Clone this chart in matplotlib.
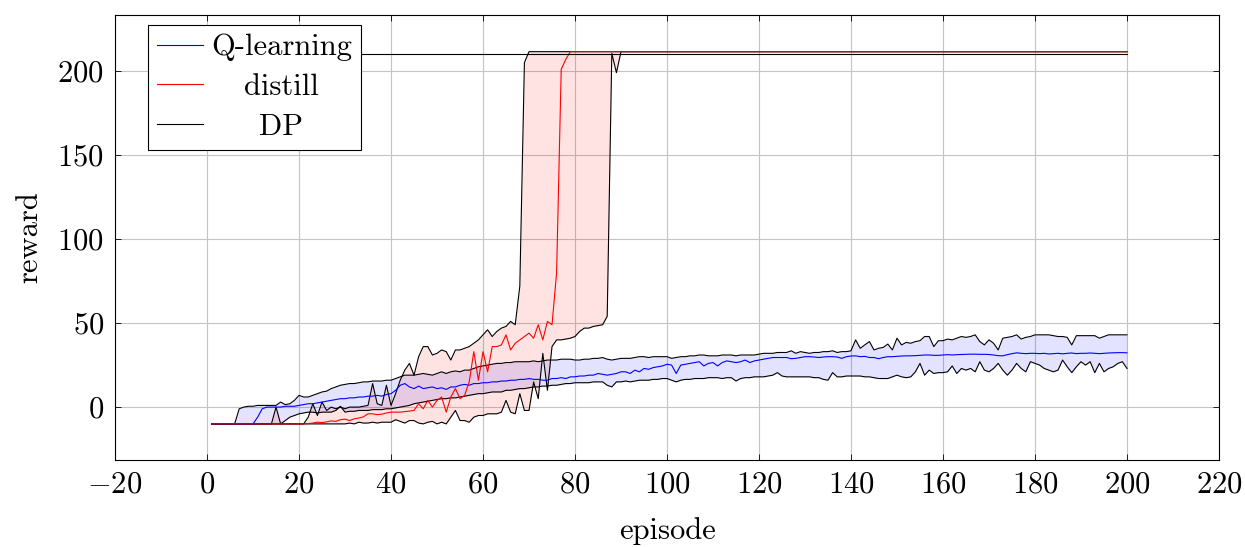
import numpy as np
import matplotlib.pyplot as plt
from matplotlib.transforms import Affine2D

# Computer-Modern-Look wie in pgfplots
plt.rcParams['font.family'] = 'serif'
plt.rcParams['font.serif'] = ['cmr10']
plt.rcParams['mathtext.fontset'] = 'cm'
plt.rcParams['axes.formatter.use_mathtext'] = True
plt.rcParams['font.size'] = 22

episode = np.arange(1, 201)

# Q-learning: Mittelwert, obere und untere Grenze
q_mean = [-10, -10, -10, -10, -10, -10, -10, -10, -10, -10,
          -6, -1, 0, 0, 0, 0, 0.5, 0.5, 0.5, 1,
          1.5, 2, 2, 2.5, 3, 3.5, 4, 4.5, 5, 5,
          5.5, 5.5, 6, 6, 6.5, 6.5, 7, 6.5, 7.5, 8,
          10, 13, 14, 12, 11, 12.5, 11, 11.5, 12, 11,
          11.5, 10.5, 12, 12, 13, 13.5, 13, 14, 14, 14.5,
          14.5, 15, 15, 15.5, 15.5, 16, 16, 16.5, 16.5, 17,
          16.5, 16.5, 16, 16, 17, 17, 17.5, 17, 18, 18,
          18.5, 18.5, 19, 19, 20, 19.5, 19, 19.5, 20, 21,
          21, 20, 22, 21, 23, 22.5, 23.5, 24, 24.5, 25.5,
          25, 20, 25, 25.5, 26, 26.5, 27, 24.5, 26, 26.5,
          24.5, 26.5, 27.5, 27, 26.5, 27, 28, 26.5, 27.5, 28,
          28.5, 29, 29.5, 29.5, 29.5, 29.5, 28.8, 29, 29.5, 30,
          30, 29.8, 29.5, 29.8, 30, 30, 29.8, 29, 30, 30.4,
          30.5, 30, 30.2, 29.5, 29.5, 28.8, 29.5, 30, 30, 30.2,
          30.4, 30.5, 30.5, 30.6, 30.8, 31, 31, 30.8, 30.8, 31,
          31.2, 31, 31.2, 31.3, 31.4, 31.5, 31.5, 31.4, 31.4, 31.3,
          31, 30.6, 30.5, 31.2, 31.8, 32.3, 32, 31.8, 32, 32,
          31.8, 32, 31.6, 31.8, 32, 31.7, 32, 32.2, 31.8, 32,
          32, 32.2, 32, 31.8, 32, 32.2, 32.3, 32.4, 32.4, 32.3]

q_upper = [-10, -10, -10, -10, -10, -10, -1, 0, 0.5, 0.5,
           1, 1, 1, 1, 1, 3, 1.5, 2, 4, 7,
           6, 6, 7, 8, 9, 9.5, 11, 12, 13, 13.5,
           14, 14, 14.5, 15, 15, 15.5, 15.5, 15.5, 16, 16,
           17, 18, 19, 19, 19, 19.5, 20, 19.5, 19, 20,
           21, 20, 21, 21.5, 21, 22, 22, 23, 24, 24.5,
           25, 25.5, 26, 26, 26.5, 26.5, 27, 27, 27, 27,
           27.5, 27, 27.5, 28, 28, 28, 28.5, 28.5, 28.5, 28,
           28, 28.5, 28.5, 29, 29, 29.5, 28.5, 28, 28.5, 29,
           29, 29, 29.5, 30, 30, 29.5, 30, 30, 30, 30,
           29, 29.5, 30, 30, 30.5, 30.5, 31, 31, 30.5, 30.5,
           30.5, 31, 31, 31, 30.5, 31, 31, 31, 31, 31.5,
           32, 32, 32, 32.5, 32.5, 32.5, 33.5, 32, 33, 32.5,
           32, 32.5, 32.5, 33, 33, 33.5, 32.5, 33, 33, 33.5,
           40, 35, 37, 39, 34, 35, 35.5, 37.5, 34, 41,
           37, 38.5, 38, 39, 39.5, 42, 42, 36, 39.5, 39.5,
           40.5, 40, 41, 42, 41.5, 42, 43, 39, 37, 40,
           38, 34, 41, 41.5, 42, 43, 40.5, 41.5, 42, 43,
           43, 43, 43, 42.5, 42, 42, 41.5, 37, 42.5, 42.5,
           42.5, 42.5, 42.5, 41, 42, 43, 43, 43, 43, 43]

q_lower = [-10, -10, -10, -10, -10, -10, -10, -10, -10, -10,
           -10, -10, -10, -10, -10, -10, -8, -6, -5, -4,
           -3.5, -3, -3, -3.5, -3, -3, -3, -2, 0.5, -3,
           -2.5, -2.5, -2, -2, -2, -1.5, -1.5, -1.5, -1, -1,
           -0.5, 0, 0.5, 1, 2, 2.5, 3, 3.5, 4, 4.5,
           5, 5, 5.5, 5.5, 6, 6.5, 7, 7.5, 8, 8,
           8.5, 9, 9, 9, 10, 10, 10.5, 11, 11, 11.5,
           12, 12, 12.5, 12.5, 13, 13, 13.5, 14, 14, 14.5,
           14.5, 14.5, 14.5, 15, 15, 15, 13, 12, 15, 15,
           15.5, 15, 15.5, 16, 16, 16, 16.5, 16.5, 17, 17,
           16, 15, 16, 16.5, 16.5, 17, 17, 17, 17.5, 17.5,
           17.5, 17, 17.5, 17.5, 15.5, 17, 17.5, 17.5, 18, 18,
           18, 18.5, 19, 20.5, 18.5, 18, 18, 18, 18, 18,
           18, 17.5, 17.5, 16.5, 16, 20.5, 18, 18, 18.5, 18.5,
           18.5, 18.5, 18, 18, 17.5, 17, 17, 17, 18, 19,
           18, 17.5, 18, 21, 26, 19, 22, 20, 20.5, 20.5,
           21, 24.5, 20, 23, 22, 23, 21, 27, 22, 21,
           23, 26, 22, 19, 22, 26, 23, 21, 27, 26,
           25, 23, 22, 21, 22, 28, 24, 20.5, 24, 27,
           25, 27, 20.5, 26, 21, 23, 24, 26, 27, 23]

# distill: Mittelwert, obere und untere Grenze
distill_mean = ([-10] * 21 +
                [-9.8, -9.5, -9, -9.2, -8.8, -8.2, -8.5, -7.5, -7.2,
                 -8, -7, -6.5, -5.8, -4, -4, -4.5, -4.2, -3.5, -3,
                 -3, -3, -2.7, -2.4, -2, 2, -1, 4, 0, 4,
                 6, -3, 6, 11, 5, 7, 15, 33, 16, 33,
                 21, 36, 36, 37, 43, 34, 38, 40, 42, 44,
                 41, 49, 40, 51, 49, 80, 201, 207] +
                [211.5] * 122)

distill_upper = ([-10] * 14 + [0] + [-10] * 6 +
                 [-6, 2, -5, 3, -2, 0, -1, 0, -1,
                  0, 0, 0, 0.5, 1, 14, 2, 1, 13, 1,
                  8, 16, 22, 26, 19, 30, 36, 36, 31, 32,
                  34, 33, 28, 34, 34, 35, 36, 38, 40, 43,
                  46, 42, 45, 47, 48, 51, 49, 72, 205] +
                 [211.5] * 131)

distill_lower = ([-10] * 30 +
                 [-9.5, -10, -9, -9.5, -9.5, -9, -9.5, -9, -9, -9,
                  -7.5, -8.5, -9.5, -8, -8, -9.5, -10, -9, -8.5, -10,
                  -9, -10, -6, -2, -8, -8, -9, -6, -5, -5,
                  -4, -4, -4, -3, 4, -3, -4, 8, -2, -2,
                  15, 5, 32, 10, 36, 40, 40, 40.5, 41, 42,
                  45, 47, 47, 48, 48.5, 49, 54, 210.5, 199] +
                 [211.5] * 111)

dp_reward = [210] * 200

fig = plt.figure(figsize=(12.45, 5.47), dpi=100)
ax = fig.add_axes([0.0924, 0.159, 0.8867, 0.8135])

# Baender
ax.fill_between(episode, q_lower, q_upper, color='blue', alpha=0.11, lw=0)
ax.fill_between(episode, distill_lower, distill_upper, color='red', alpha=0.11, lw=0)

# Grenzen
for bound in (q_upper, q_lower, distill_upper, distill_lower):
    ax.plot(episode, bound, 'k-', lw=0.8)

ax.plot(episode, q_mean, '-', color='blue', lw=0.8, label='Q-learning')
ax.plot(episode, distill_mean, '-', color='red', lw=0.8, label='distill')
ax.plot(episode, dp_reward, 'k-', lw=0.8, label='DP')

ax.set_xlim(-20, 220)
ax.set_ylim(-31.5, 233.3)
ax.set_xticks(np.arange(-20, 221, 20))
ax.set_yticks(np.arange(0, 201, 50))
ax.grid(True, color='#c4c4c4', lw=0.8)
ax.set_axisbelow(True)
ax.tick_params(direction='in', top=True, right=True, length=4, width=0.6, pad=8)
for s in ax.spines.values():
    s.set_linewidth(0.8)

ax.set_xlabel('episode', labelpad=13)
ax.set_ylabel('reward', labelpad=10)

leg = ax.legend(loc='upper left', bbox_to_anchor=(0.03, 0.978), borderaxespad=0,
                fancybox=False, edgecolor='black', framealpha=1,
                handlelength=1.5, handletextpad=0.25, labelspacing=0.4, borderpad=0.3)
leg.get_frame().set_linewidth(0.8)

# Legendentexte zentrieren
fig.canvas.draw()
renderer = fig.canvas.get_renderer()
texts = leg.get_texts()
widths = [t.get_window_extent(renderer).width for t in texts]
for t, w in zip(texts, widths):
    t.set_transform(t.get_transform() + Affine2D().translate((max(widths) - w) / 2, 0))

fig.savefig('out.png', dpi=100)
